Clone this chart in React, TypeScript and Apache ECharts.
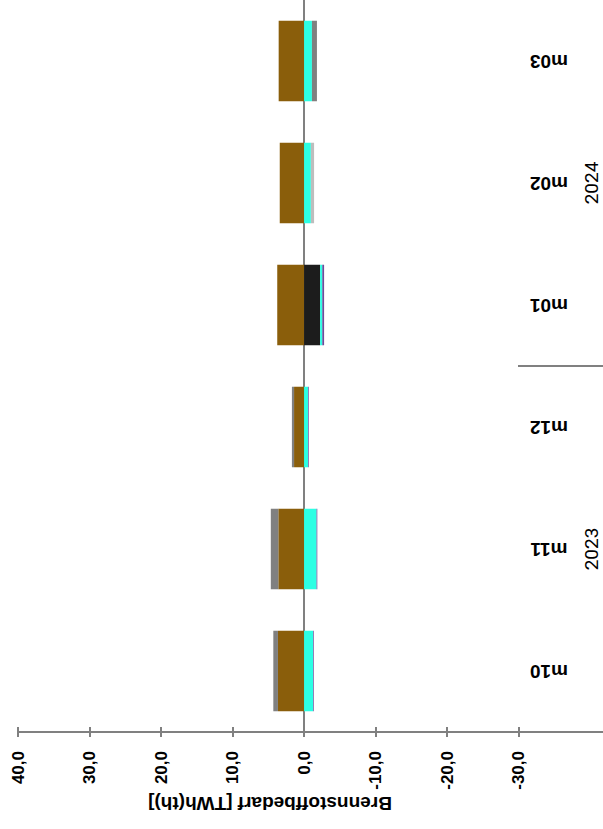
import React, { useEffect, useRef } from "react";
import * as echarts from "echarts";

const categories = ["m10", "m11", "m12", "m01", "m02", "m03"];
const years = ["2023", "2024"];
const tickValues = [40, 30, 20, 10, 0, -10, -20, -30];

const brownValues = [3.65, 3.6, 1.4, 3.75, 3.4, 3.55];
const blackValues = [null, null, null, -2.25, null, null];
const cyanValues = [-1.25, -1.75, -0.55, -0.3, -0.95, -1.1];
const purpleValues = [-0.1, -0.1, -0.1, -0.25, null, null];
const greyValues = [0.65, 1.05, 0.3, null, null, -0.7];
const lightGreyValues = [null, null, null, null, -0.45, null];

const axisTitle = "Brennstoffbedarf [TWh(th)]";

const FONT = "'Liberation Sans', Arial, sans-serif";

export default function App() {
  const ref = useRef<HTMLDivElement>(null);

  useEffect(() => {
    if (!ref.current) return;
    const chart = echarts.init(ref.current, null, { renderer: "svg" });
    const fmt = (v: number) => v.toFixed(1).replace(".", ",");
    const mk = (name: string, data: (number | null)[], color: string) => ({
      name,
      type: "bar",
      stack: "total",
      data,
      barWidth: "66%",
      xAxisIndex: 0,
      yAxisIndex: 0,
      itemStyle: { color },
    });
    chart.setOption({
      animation: false,
      backgroundColor: "#ffffff",
      grid: { left: 18, right: 0, top: -2, height: 734 },
      xAxis: [
        {
          type: "value",
          inverse: true,
          min: -41.8,
          max: 40,
          position: "bottom",
          splitLine: { show: false },
          axisLine: { show: true, lineStyle: { color: "#808080", width: 2 } },
          axisTick: {
            show: true,
            length: 5,
            customValues: tickValues,
            lineStyle: { color: "#808080", width: 2 },
          },
          axisLabel: {
            customValues: tickValues,
            rotate: 90,
            margin: 19,
            formatter: fmt,
            fontFamily: FONT,
            fontSize: 17,
            fontWeight: "bold",
            color: "#000",
          },
        },
        {
          type: "value",
          inverse: true,
          min: -41.8,
          max: 40,
          position: "bottom",
          splitLine: { show: false },
          axisLine: { show: false },
          axisTick: {
            show: true,
            inside: true,
            length: 5,
            customValues: tickValues,
            lineStyle: { color: "#808080", width: 2 },
          },
          axisLabel: { show: false },
        },
      ],
      yAxis: [
        {
          type: "category",
          data: categories,
          axisLine: { show: true, onZero: true, lineStyle: { color: "#808080", width: 2 } },
          axisTick: { show: false },
          axisLabel: { show: false },
        },
        {
          type: "category",
          data: categories,
          position: "right",
          offset: -54,
          axisLine: { show: false, onZero: false },
          axisTick: { show: false },
          axisLabel: {
            rotate: 180,
            margin: 0,
            align: "center",
            verticalAlign: "middle",
            fontFamily: FONT,
            fontSize: 19,
            fontWeight: "bold",
            color: "#000",
          },
        },
        {
          type: "category",
          data: years,
          position: "right",
          offset: -12,
          axisLine: { show: false, onZero: false },
          axisTick: { show: false },
          axisLabel: {
            rotate: 90,
            margin: 0,
            align: "center",
            verticalAlign: "middle",
            fontFamily: "'Liberation Sans Narrow', 'Roboto', sans-serif",
            fontSize: 19,
            color: "#000",
          },
        },
      ],
      series: [
        mk("brown", brownValues, "#8a5e0b"),
        mk("black", blackValues, "#1c1c1c"),
        mk("cyan", cyanValues, "#2cffe4"),
        mk("purple", purpleValues, "#6a4c9c"),
        mk("grey", greyValues, "#808080"),
        mk("lightgrey", lightGreyValues, "#bdbdbd"),
      ],
    });

    const yA = chart.convertToPixel({ yAxisIndex: 0 }, 2) as number;
    const yB = chart.convertToPixel({ yAxisIndex: 0 }, 3) as number;
    const sepY = (yA + yB) / 2;
    chart.setOption({
      graphic: [
        {
          type: "line",
          shape: { x1: 518, y1: sepY, x2: 603, y2: sepY },
          style: { stroke: "#808080", lineWidth: 2 },
        },
        {
          type: "text",
          x: 270,
          y: 803,
          rotation: Math.PI,
          style: {
            text: axisTitle,
            font: `bold 19px ${FONT}`,
            fill: "#000",
            align: "center",
            verticalAlign: "middle",
          },
        },
      ],
    });

    return () => chart.dispose();
  }, []);

  return (
    <div
      ref={ref}
      style={{ position: "fixed", left: 0, top: 0, width: 603, height: 829 }}
    />
  );
}
